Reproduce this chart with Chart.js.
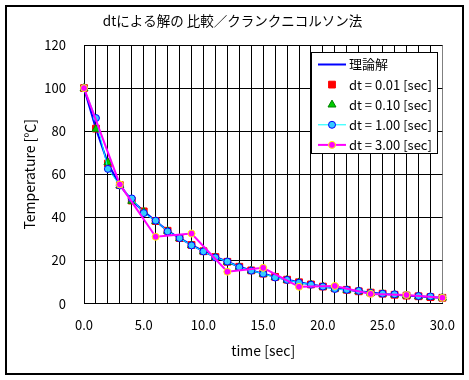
<!DOCTYPE html>
<html>
<head>
<meta charset="utf-8">
<script src="https://cdn.jsdelivr.net/npm/chart.js@4.4.1/dist/chart.umd.min.js"></script>
<style>
    html, body { margin: 0; padding: 0; background: #fff; }
    canvas { display: block; }
</style>
</head>
<body>
<canvas id="grafico" width="469" height="380"></canvas>
<script>
// Tempos (sec)
const tempos = [0, 1, 2, 3, 4, 5, 6, 7, 8, 9, 10, 11, 12, 13, 14, 15, 16, 17, 18, 19, 20, 21, 22, 23, 24, 25, 26, 27, 28, 29, 30];
const tempos3 = [0, 3, 6, 9, 12, 15, 18, 21, 24, 27, 30];

// Temperaturas
const teorico = [100, 81.2, 65.0, 55.0, 47.8, 42.8, 38.3, 33.8, 30.4, 27.2, 24.3, 21.6, 19.4, 17.1, 15.4, 13.9, 12.4, 11.1, 9.9, 8.9, 7.9, 7.1, 6.4, 5.7, 5.1, 4.6, 4.1, 3.7, 3.4, 3.0, 2.7];
const dt001 = [100, 81.2, 65.0, 55.0, 47.8, 42.8, 38.3, 33.8, 30.4, 27.2, 24.3, 21.6, 19.4, 17.1, 15.4, 13.9, 12.4, 11.1, 9.9, 8.9, 7.9, 7.1, 6.4, 5.7, 5.1, 4.6, 4.1, 3.7, 3.4, 3.0, 2.7];
const dt010 = [100, 81.0, 65.5, 54.8, 47.6, 42.6, 38.2, 33.7, 30.3, 27.1, 24.2, 21.5, 19.3, 17.0, 15.3, 13.8, 12.3, 11.0, 9.8, 8.8, 7.9, 7.0, 6.3, 5.7, 5.0, 4.6, 4.1, 3.7, 3.3, 3.0, 2.7];
const dt100 = [100, 86.1, 62.5, 54.8, 48.8, 42.0, 38.5, 33.5, 30.4, 27.0, 24.2, 21.4, 19.5, 16.9, 15.3, 13.9, 12.1, 11.0, 9.7, 8.8, 7.9, 6.8, 6.4, 5.9, 4.9, 4.6, 4.3, 4.0, 3.5, 3.3, 2.8];
const dt300 = [100, 55.3, 31.0, 32.5, 14.8, 16.6, 7.8, 8.2, 4.5, 4.0, 2.7];

const rotulos = ['理論解', 'dt = 0.01 [sec]', 'dt = 0.10 [sec]', 'dt = 1.00 [sec]', 'dt = 3.00 [sec]'];
const ticksY = [0, 20, 40, 60, 80, 100, 120];

const fonte = '"Noto Sans CJK JP", "Noto Sans", sans-serif';

function pontos(xs, ys) {
    return xs.map((x, i) => ({ x: x, y: ys[i] }));
}

// Moldura externa e fundo branco
const molduraPlugin = {
    id: 'moldura',
    beforeDraw(chart) {
        const ctx = chart.ctx;
        ctx.save();
        ctx.fillStyle = '#fff';
        ctx.fillRect(0, 0, chart.width, chart.height);
        ctx.strokeStyle = '#000';
        ctx.lineWidth = 2;
        ctx.strokeRect(6, 6, 457, 368);
        ctx.restore();
    }
};

// Legenda no estilo Excel (linha + marcador)
const legendaPlugin = {
    id: 'legenda',
    afterDraw(chart) {
        const ctx = chart.ctx;
        ctx.save();
        ctx.fillStyle = '#fff';
        ctx.fillRect(312, 53, 125, 100);
        ctx.strokeStyle = '#000';
        ctx.lineWidth = 1;
        ctx.strokeRect(311.5, 52.5, 126, 101);
        chart.data.datasets.forEach((ds, i) => {
            const y = 64.5 + i * 20.1;
            if (ds.showLine !== false) {
                ctx.strokeStyle = ds.borderColor;
                ctx.lineWidth = ds.borderWidth;
                ctx.beginPath();
                ctx.moveTo(318, y);
                ctx.lineTo(346, y);
                ctx.stroke();
            }
            if (ds.pointRadius > 0) {
                ctx.fillStyle = ds.pointBackgroundColor;
                ctx.strokeStyle = ds.pointBorderColor;
                ctx.lineWidth = ds.pointBorderWidth;
                Chart.helpers.drawPoint(ctx, {
                    pointStyle: ds.pointStyle,
                    radius: ds.pointRadius,
                    borderWidth: ds.pointBorderWidth,
                    rotation: 0
                }, 332, y);
            }
            ctx.fillStyle = '#000';
            ctx.font = '13px ' + fonte;
            ctx.textAlign = 'left';
            ctx.textBaseline = 'middle';
            ctx.fillText(ds.label, 349, y);
        });
        ctx.restore();
    }
};

const ctx = document.getElementById('grafico').getContext('2d');
const grafico = new Chart(ctx, {
    type: 'line',
    data: {
        datasets: [
            {
                label: rotulos[0],
                data: pontos(tempos, teorico),
                borderColor: '#0000FF',
                borderWidth: 2,
                pointRadius: 0,
                order: 5
            },
            {
                label: rotulos[1],
                data: pontos(tempos, dt001),
                showLine: false,
                pointStyle: 'rect',
                pointRadius: 4.8,
                pointBackgroundColor: '#FF0000',
                pointBorderColor: '#FF0000',
                pointBorderWidth: 1,
                order: 4
            },
            {
                label: rotulos[2],
                data: pontos(tempos, dt010),
                showLine: false,
                pointStyle: 'triangle',
                pointRadius: 4.6,
                pointBackgroundColor: '#00CC00',
                pointBorderColor: '#008000',
                pointBorderWidth: 1,
                order: 3
            },
            {
                label: rotulos[3],
                data: pontos(tempos, dt100),
                borderColor: '#00FFFF',
                borderWidth: 1,
                pointStyle: 'circle',
                pointRadius: 3.5,
                pointBackgroundColor: '#33CCFF',
                pointBorderColor: '#0000FF',
                pointBorderWidth: 1,
                order: 2
            },
            {
                label: rotulos[4],
                data: pontos(tempos3, dt300),
                borderColor: '#FF00FF',
                borderWidth: 2,
                pointStyle: 'circle',
                pointRadius: 3.5,
                pointBackgroundColor: '#FF00FF',
                pointBorderColor: '#FFFF00',
                pointBorderWidth: 1,
                order: 1
            }
        ]
    },
    options: {
        responsive: false,
        animation: false,
        devicePixelRatio: 1,
        clip: false,
        layout: { padding: { top: 6, left: 21, right: 25, bottom: 10 } },
        plugins: {
            legend: { display: false },
            tooltip: { enabled: false },
            title: {
                display: true,
                text: 'dtによる解の 比較／クランクニコルソン法',
                color: '#000',
                font: { family: fonte, size: 13.5, weight: 'normal' },
                padding: { top: 7, bottom: 15.8 }
            }
        },
        scales: {
            x: {
                type: 'linear',
                min: 0,
                max: 30,
                afterFit: (s) => { s.height = 66.4; },
                grid: {
                    color: (c) => (c.tick && c.tick.value === 30 ? '#808080' : '#000'),
                    lineWidth: 1,
                    drawTicks: false
                },
                border: { color: '#000', width: 1 },
                ticks: {
                    stepSize: 1,
                    autoSkip: false,
                    maxRotation: 0,
                    padding: 14,
                    color: '#000',
                    font: { family: fonte, size: 13 },
                    callback: (v) => (v % 5 === 0 ? v.toFixed(1) : '')
                },
                title: {
                    display: true,
                    text: 'time [sec]',
                    color: '#000',
                    font: { family: fonte, size: 14 },
                    padding: { top: 0, bottom: 10.6 }
                }
            },
            y: {
                min: 0,
                max: 120,
                afterFit: (s) => { s.width = 63; },
                afterBuildTicks: (s) => { s.ticks = ticksY.map(v => ({ value: v })); },
                grid: { color: '#000', lineWidth: 1, drawTicks: false },
                border: { color: '#000', width: 1 },
                ticks: {
                    padding: 18,
                    color: '#000',
                    font: { family: fonte, size: 13 }
                },
                title: {
                    display: true,
                    text: 'Temperature [℃]',
                    color: '#000',
                    font: { family: fonte, size: 14 },
                    padding: { top: 0, bottom: 0 }
                }
            }
        }
    },
    plugins: [molduraPlugin, legendaPlugin]
});
</script>
</body>
</html>
